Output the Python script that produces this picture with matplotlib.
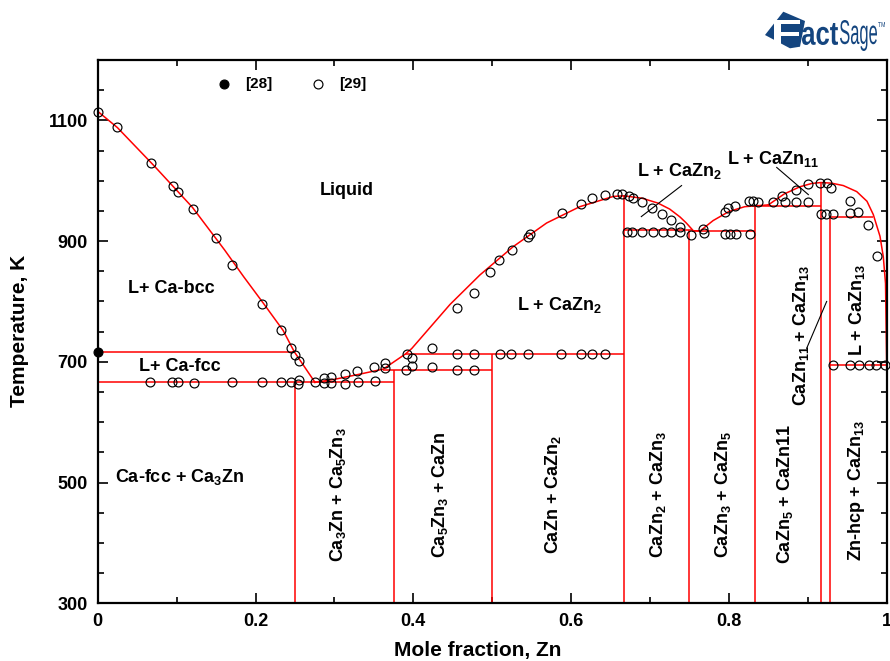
import matplotlib
matplotlib.use("Agg")
import matplotlib.pyplot as plt
from matplotlib.patches import Polygon, PathPatch
from matplotlib.textpath import TextPath
from matplotlib.font_manager import FontProperties
from matplotlib.transforms import Affine2D, IdentityTransform

plt.rcParams["font.family"] = ["Liberation Sans", "DejaVu Sans"]
plt.rcParams["font.weight"] = "bold"
plt.rcParams["mathtext.fontset"] = "custom"
plt.rcParams["mathtext.rm"] = "Liberation Sans:bold"
plt.rcParams["mathtext.it"] = "Liberation Sans:bold"
plt.rcParams["mathtext.bf"] = "Liberation Sans:bold"
plt.rcParams["mathtext.default"] = "rm"

# ---------------- phase boundaries (x = mole fraction Zn, T in K) ----------------
liq_bcc_x = [0.0, 0.025, 0.072, 0.12, 0.161, 0.185, 0.21, 0.235, 0.249]
liq_bcc_T = [1115, 1088, 1024, 956, 885, 841, 797, 752, 717]

liq_fcc_x = [0.249, 0.2754]
liq_fcc_T = [717, 666]

liq_mid_x = [0.2754, 0.30, 0.33, 0.362, 0.39, 0.398, 0.4465, 0.4845, 0.5268,
             0.569, 0.611, 0.6535, 0.667]
liq_mid_T = [666, 671, 679, 688, 713, 722, 795, 844, 891, 930, 957, 974, 975]

liq_czn2_x = [0.667, 0.69, 0.71, 0.725, 0.738, 0.746, 0.755]
liq_czn2_T = [975, 971, 963, 953, 940, 930, 917]

liq_czn5_x = [0.755, 0.7636, 0.780, 0.80, 0.82, 0.85]
liq_czn5_T = [917, 917, 934, 949, 957, 960]

liq_czn11_x = [0.85, 0.87, 0.89, 0.905, 0.9167, 0.93, 0.945, 0.962, 0.975,
               0.983, 0.9915, 0.9957, 0.9985, 1.0]
liq_czn11_T = [960, 978, 990, 995.5, 997, 996, 992, 982, 966, 944, 908, 874,
               830, 693]

# invariant (horizontal) lines
inv_T = [717, 667, 686, 713, 918, 916, 958, 940.6, 694]
inv_x0 = [0.0, 0.0, 0.362, 0.39, 0.667, 0.753, 0.8333, 0.9286, 0.9286]
inv_x1 = [0.249, 0.375, 0.5, 0.667, 0.753, 0.8333, 0.9167, 0.983, 1.0]

# stoichiometric compounds (vertical lines): Ca3Zn, Ca5Zn3, CaZn, CaZn2,
# CaZn3, CaZn5, CaZn11, CaZn13
cmp_x = [0.25, 0.375, 0.5, 0.6667, 0.75, 0.8333, 0.9167, 0.9286]
cmp_T = [667, 686, 713, 975, 918, 958, 997, 940.6]

# ---------------- experimental points ----------------
ref28_x = [0.0]
ref28_T = [717]

ref29_x = [
    0.0004, 0.0248, 0.0672, 0.0954, 0.1018, 0.1208, 0.1503, 0.1702, 0.2078,
    0.2319, 0.245, 0.250, 0.2551,
    0.0668, 0.0938, 0.102, 0.1216, 0.1706, 0.2082, 0.2327, 0.2455, 0.2555,
    0.2543, 0.2754, 0.2868, 0.2868, 0.2953, 0.2953, 0.3134, 0.3134, 0.329,
    0.3303, 0.3506, 0.3515, 0.3641, 0.3641,
    0.3916, 0.398, 0.3907, 0.3987, 0.4233, 0.4241,
    0.455, 0.477, 0.510, 0.524, 0.546, 0.587, 0.6126, 0.6269, 0.643,
    0.455, 0.477,
    0.455, 0.4773, 0.4972, 0.509, 0.5255, 0.5458, 0.5479, 0.588, 0.6122,
    0.6269, 0.643, 0.658, 0.664, 0.6737, 0.678, 0.69, 0.702, 0.7156, 0.7266,
    0.738,
    0.671, 0.6776, 0.690, 0.704, 0.717, 0.7266, 0.738, 0.7516, 0.7676, 0.7684,
    0.795, 0.8015, 0.809, 0.827,
    0.795, 0.7993, 0.8077, 0.826, 0.830, 0.837,
    0.8555, 0.867, 0.871, 0.885, 0.885, 0.900, 0.9007, 0.9155, 0.9247, 0.930,
    0.9167, 0.923, 0.9325, 0.9535, 0.9535, 0.964, 0.9767, 0.988,
    0.932, 0.9535, 0.965, 0.977, 0.987, 0.998,
]
ref29_T = [
    1114.6, 1089.7, 1030, 991.5, 982, 952.9, 904.8, 860.6, 796,
    752.9, 723.5, 711.4, 701.5,
    667, 667, 666.5, 665.5, 667, 667, 667, 667, 670,
    663, 666.2, 672.8, 664.5, 675.5, 664.5, 679.5, 663.4, 685.4,
    666.2, 691, 668.3, 698.7, 690.4,
    713, 707, 686.6, 693.2, 723.5, 691,
    713, 713, 713, 713, 713, 713, 713, 713, 713,
    687, 687,
    788.8, 813.7, 849.5, 868.8, 885.4, 907.5, 912, 946.2, 961.7,
    972, 976, 978, 978, 975, 971, 964.5, 954.5, 945, 935,
    923,
    915.7, 915.7, 915.7, 915.7, 915.7, 915.7, 915.7, 910, 919.7, 914,
    912, 912, 912, 912,
    948.9, 954.5, 958.8, 967, 967, 965.5,
    965.5, 975, 964.5, 984.8, 964.5, 994.3, 964.5, 997, 996, 988.6,
    945, 945, 945, 966.6, 946.2, 948.9, 926.8, 876,
    695, 695, 695, 695, 695, 695,
]

# ---------------- region labels ----------------
labels = [
    ("Liquid", 0.316, 983, 0),
    ("L+ Ca-bcc", 0.093, 821, 0),
    ("L+ Ca-fcc", 0.104, 692, 0),
    ("Ca-fcc + Ca$_3$Zn", 0.104, 509, 0),
    ("L + CaZn$_2$", 0.585, 794, 0),
    ("L + CaZn$_2$", 0.738, 1016, 0),
    ("L + CaZn$_{11}$", 0.856, 1036, 0),
    ("Ca$_3$Zn + Ca$_5$Zn$_3$", 0.305, 480, 90),
    ("Ca$_5$Zn$_3$ + CaZn", 0.434, 480, 90),
    ("CaZn + CaZn$_2$", 0.577, 480, 90),
    ("CaZn$_2$ + CaZn$_3$", 0.7105, 480, 90),
    ("CaZn$_3$ + CaZn$_5$", 0.793, 480, 90),
    ("CaZn$_5$ + CaZn11", 0.871, 480, 90),
    ("Zn-hcp + CaZn$_{13}$", 0.962, 487, 90),
    ("CaZn$_{11}$ + CaZn$_{13}$", 0.891, 744, 90),
    ("L + CaZn$_{13}$", 0.962, 786, 90),
]
pointers = [
    ((0.740, 992), (0.689, 940.6)),
    ((0.8606, 1022), (0.9007, 977)),
    ((0.9239, 800), (0.8986, 722.5)),
]

x_ticks = [0, 0.2, 0.4, 0.6, 0.8, 1.0]
x_ticklabels = ["0", "0.2", "0.4", "0.6", "0.8", "1"]
y_ticks = [300, 500, 700, 900, 1100]

W, H = 890, 661
fig = plt.figure(figsize=(W / 100, H / 100), dpi=100)
ax = fig.add_axes([97.7 / W, 1 - 603.3 / H, 789 / W, 543.3 / H])

red = "#ff0000"
lw = 1.1
for xs, ts in [(liq_bcc_x, liq_bcc_T), (liq_fcc_x, liq_fcc_T),
               (liq_mid_x, liq_mid_T), (liq_czn2_x, liq_czn2_T),
               (liq_czn5_x, liq_czn5_T), (liq_czn11_x, liq_czn11_T)]:
    ax.plot(xs, ts, color=red, lw=lw, zorder=2)
ax.hlines(inv_T, inv_x0, inv_x1, color=red, lw=lw, zorder=2)
ax.vlines(cmp_x, 300, cmp_T, color=red, lw=lw, zorder=2)

ms = 6.4
ax.plot(ref29_x, ref29_T, ls="none", marker="o", ms=ms, mfc="none",
        mec="black", mew=0.85, zorder=3, clip_on=False)
ax.plot(ref28_x, ref28_T, ls="none", marker="o", ms=ms, mfc="black",
        mec="black", mew=0.85, zorder=4, clip_on=False)

# key
ax.plot([0.160], [1160.5], ls="none", marker="o", ms=ms, mfc="black",
        mec="black", mew=0.85)
ax.plot([0.2796], [1160.5], ls="none", marker="o", ms=ms, mfc="none",
        mec="black", mew=0.85)
ax.text(0.187, 1160.5, "[28]", fontsize=11, va="center", ha="left")
ax.text(0.306, 1160.5, "[29]", fontsize=11, va="center", ha="left")

for s, x, t, rot in labels:
    ax.text(x, t, s, fontsize=13, ha="center", va="center", rotation=rot,
            zorder=5)
for (x0, t0), (x1, t1) in pointers:
    ax.plot([x0, x1], [t0, t1], color="black", lw=0.8, zorder=4)

ax.set_xlim(0, 1)
ax.set_ylim(300, 1200)
ax.set_xticks(x_ticks)
ax.set_xticklabels(x_ticklabels)
ax.set_yticks(y_ticks)
ax.set_xticks([0.1, 0.3, 0.5, 0.7, 0.9], minor=True)
ax.set_yticks([350, 400, 450, 550, 600, 650, 750, 800, 850, 950, 1000, 1050,
               1150], minor=True)
ax.tick_params(which="both", direction="in", top=True, right=True,
               labelsize=13, width=1.2, pad=7)
ax.tick_params(which="major", length=7)
ax.tick_params(which="minor", length=4)
for sp in ax.spines.values():
    sp.set_linewidth(1.6)

fig.text(20 / W, 1 - 331 / H, "Temperature, K", rotation=90, fontsize=15,
         ha="center", va="center")
fig.text(478 / W, 1 - 656 / H, "Mole fraction, Zn", fontsize=15,
         ha="center", va="baseline")

# ---------------- FactSage mark ----------------
navy = "#14457f"
pix = IdentityTransform()


def px(x, y):
    return (x, H - y)


fig.patches.append(Polygon([px(783.3, 11.7), px(805, 21), px(800, 46.7),
                            px(790, 48.3), px(765, 35)], closed=True,
                           facecolor=navy, edgecolor="none",
                           transform=pix, figure=fig))


def boxed_text(s, x0, y0, x1, y1, color, weight):
    prop = FontProperties(family="Liberation Sans", weight=weight)
    tp = TextPath((0, 0), s, size=10, prop=prop)
    bb = tp.get_extents()
    sx = (x1 - x0) / bb.width
    sy = (y1 - y0) / bb.height
    tr = Affine2D().translate(-bb.x0, -bb.y0).scale(sx, sy).translate(x0, H - y1)
    fig.patches.append(PathPatch(tp, facecolor=color, edgecolor="none",
                                 transform=tr + pix, figure=fig))


boxed_text("F", 774, 20, 800, 45, "white", "bold")
boxed_text("act", 802, 23, 838, 45, navy, "bold")
boxed_text("Sage", 840, 20, 877, 51, navy, "normal")
boxed_text("TM", 878, 22, 885, 27, navy, "normal")

fig.savefig("out.png", dpi=100)
